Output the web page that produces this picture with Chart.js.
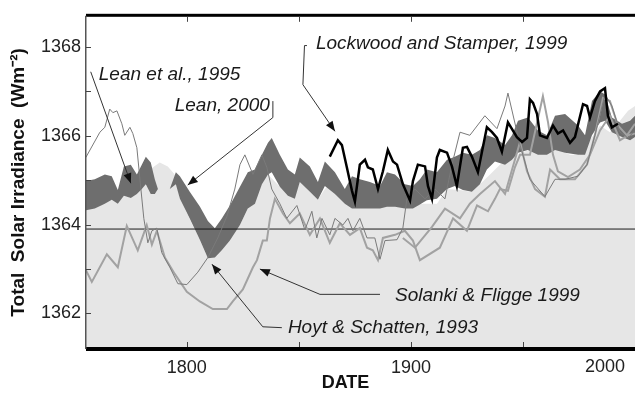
<!DOCTYPE html>
<html>
<head>
<meta charset="utf-8">
<script src="https://cdn.jsdelivr.net/npm/chart.js@4.4.1/dist/chart.umd.min.js"></script>
<style>
  html, body { margin: 0; padding: 0; background: #fff; }
  canvas { display: block; }
</style>
</head>
<body>
<canvas id="tsiChart" width="635" height="394"></canvas>
<script>
const FONT = "'Liberation Sans', Arial, Helvetica, sans-serif";

// axis ticks
const xTickYears = [1800, 1850, 1900, 1950];
const xLabelYears = [1800, 1900];
const yTickValues = [1362, 1363, 1364, 1365, 1366, 1367, 1368];

// light grey envelope (filled to the bottom)
const lightYears = [1754.9, 1763.4, 1769.2, 1775.0, 1779.0, 1783.5, 1787.9, 1791.5, 1794.6, 1796.9, 1805.8, 1809.4, 1815.6, 1823.7, 1827.2, 1830.4, 1833.5, 1836.2, 1841.5, 1845.1, 1848.2, 1850.4, 1854.9, 1858.5, 1861.6, 1866.1, 1870.5, 1877.2, 1886.2, 1895.1, 1904.0, 1911.6, 1916.1, 1921.9, 1926.3, 1930.8, 1935.3, 1939.7, 1944.2, 1948.7, 1953.1, 1957.6, 1961.2, 1964.3, 1966.5, 1971.0, 1975.4, 1979.9, 1984.4, 1988.8, 1993.3, 1996.9, 2000.0];
const lightTop = [1364.32, 1364.47, 1364.69, 1364.60, 1364.91, 1365.24, 1365.40, 1365.31, 1365.13, 1364.58, 1363.66, 1363.24, 1363.42, 1363.99, 1364.36, 1365.02, 1365.24, 1365.13, 1364.85, 1365.02, 1365.13, 1364.96, 1364.74, 1364.56, 1364.80, 1365.02, 1364.47, 1364.47, 1364.47, 1364.47, 1364.47, 1364.47, 1364.80, 1364.78, 1364.74, 1364.91, 1365.13, 1365.35, 1365.46, 1365.62, 1365.68, 1365.57, 1366.12, 1366.23, 1365.68, 1365.57, 1365.57, 1365.90, 1366.23, 1366.08, 1366.34, 1366.56, 1366.67];

// dark grey band (Lean)
const bandYears = [1754.9, 1758.9, 1763.4, 1766.5, 1769.2, 1771.9, 1775.0, 1777.7, 1779.9, 1781.7, 1783.9, 1785.7, 1787.1, 1792.4, 1795.1, 1796.9, 1801.3, 1805.8, 1809.4, 1812.5, 1815.6, 1819.2, 1823.7, 1827.2, 1830.4, 1833.5, 1836.2, 1837.9, 1841.5, 1845.1, 1848.2, 1850.4, 1854.9, 1858.5, 1861.6, 1866.1, 1870.5, 1873.7, 1877.2, 1881.7, 1886.2, 1889.3, 1892.9, 1897.3, 1900.9, 1904.0, 1907.1, 1911.6, 1916.1, 1919.6, 1923.2, 1927.2, 1930.8, 1933.9, 1937.5, 1942.0, 1945.1, 1947.8, 1952.2, 1956.7, 1960.7, 1964.3, 1968.8, 1974.6, 1977.7, 1980.8, 1984.4, 1986.6, 1989.7, 1994.2, 1997.8, 2000.0];
const bandUpper = [1364.98, 1365.02, 1365.13, 1365.09, 1364.78, 1365.31, 1365.35, 1365.13, 1365.35, 1365.53, 1365.40, 1365.02, 1364.80, 1364.80, 1365.18, 1365.09, 1364.74, 1364.41, 1364.08, 1363.92, 1364.14, 1364.43, 1364.85, 1365.18, 1365.24, 1365.57, 1365.84, 1365.95, 1365.57, 1365.24, 1365.13, 1365.51, 1365.31, 1364.96, 1365.42, 1365.18, 1364.80, 1365.09, 1365.02, 1364.96, 1364.87, 1365.18, 1365.13, 1364.91, 1364.87, 1365.02, 1365.24, 1365.18, 1365.46, 1365.53, 1365.62, 1365.57, 1365.68, 1366.01, 1365.95, 1365.79, 1366.01, 1366.34, 1366.41, 1366.12, 1366.01, 1366.45, 1366.49, 1366.23, 1366.01, 1366.78, 1367.00, 1366.93, 1366.41, 1366.27, 1366.34, 1366.45];
const bandLower = [1364.32, 1364.36, 1364.47, 1364.56, 1364.47, 1364.65, 1364.60, 1364.69, 1364.80, 1364.91, 1364.69, 1364.69, 1364.80, 1364.80, 1364.91, 1364.58, 1364.14, 1363.66, 1363.24, 1363.26, 1363.42, 1363.64, 1363.99, 1364.36, 1364.47, 1364.91, 1365.13, 1365.18, 1364.85, 1364.65, 1364.58, 1364.96, 1364.74, 1364.56, 1364.87, 1364.69, 1364.47, 1364.36, 1364.36, 1364.36, 1364.36, 1364.40, 1364.40, 1364.36, 1364.36, 1364.45, 1364.55, 1364.58, 1364.80, 1364.87, 1364.78, 1364.74, 1364.91, 1365.24, 1365.42, 1365.35, 1365.46, 1365.62, 1365.68, 1365.57, 1365.57, 1365.68, 1365.62, 1365.57, 1365.57, 1366.01, 1366.30, 1366.34, 1366.08, 1365.97, 1365.90, 1365.97];

// Hoyt & Schatten, 1993 (thin line)
const hsYears = [1754.9, 1761.2, 1763.4, 1765.6, 1767.0, 1768.8, 1771.0, 1772.3, 1774.6, 1775.9, 1777.7, 1779.5, 1780.8, 1782.6, 1784.4, 1786.6, 1788.8, 1792.4, 1796.0, 1800.0, 1804.9, 1809.4, 1813.8, 1817.9, 1821.4, 1823.7, 1825.9, 1829.5, 1833.5, 1835.7, 1837.9, 1841.5, 1844.6, 1849.1, 1852.7, 1855.8, 1858.0, 1860.3, 1863.8, 1866.1, 1869.6, 1871.9, 1874.1, 1877.2, 1880.4, 1883.9, 1886.2, 1888.4, 1893.8, 1896.4, 1898.2, 1901.8, 1906.3, 1910.7, 1915.2, 1918.3, 1921.9, 1926.3, 1933.0, 1938.4, 1942.0, 1943.3, 1948.7, 1953.1, 1959.8, 1964.3, 1968.8, 1974.6, 1978.6, 1982.1, 1986.6, 1989.7, 1993.3, 1996.9, 2000.0];
const hsValues = [1365.51, 1366.08, 1366.19, 1366.60, 1366.52, 1366.56, 1366.27, 1366.01, 1366.19, 1366.05, 1365.73, 1364.80, 1364.14, 1363.59, 1363.86, 1363.92, 1363.37, 1363.04, 1362.67, 1362.65, 1362.93, 1363.26, 1363.70, 1364.19, 1364.80, 1365.35, 1365.57, 1365.13, 1365.57, 1365.29, 1364.80, 1364.47, 1364.14, 1364.43, 1363.88, 1364.30, 1363.70, 1364.14, 1363.77, 1364.14, 1363.99, 1364.14, 1363.86, 1364.14, 1363.70, 1363.70, 1363.22, 1363.64, 1363.66, 1363.92, 1364.58, 1364.80, 1364.58, 1364.80, 1364.58, 1365.35, 1366.08, 1366.01, 1366.45, 1366.16, 1366.67, 1366.96, 1365.79, 1365.02, 1364.63, 1365.02, 1365.02, 1365.09, 1365.35, 1366.01, 1366.93, 1366.67, 1366.08, 1365.95, 1366.12];

// Solanki & Fligge 1999 (two grey lines)
const sfYears = [1754.9, 1757.6, 1764.3, 1769.2, 1773.2, 1778.1, 1782.1, 1784.4, 1786.6, 1790.2, 1794.6, 1800.0, 1805.8, 1811.6, 1817.9, 1820.5, 1825.0, 1829.5, 1831.3, 1833.9, 1835.7, 1837.1, 1839.3, 1842.9, 1846.0, 1850.4, 1854.9, 1859.4, 1863.8, 1868.3, 1872.8, 1877.2, 1880.4, 1883.0, 1885.3, 1887.5, 1892.9, 1897.3, 1900.9, 1904.0, 1912.9, 1918.8, 1925.0, 1929.5, 1934.4, 1937.5, 1939.7, 1943.3, 1946.4, 1948.7, 1953.1, 1958.9, 1961.2, 1963.4, 1965.6, 1970.1, 1975.4, 1979.9, 1984.4, 1988.8, 1993.3, 1996.9, 2000.0];
const sfValues = [1362.98, 1362.71, 1363.33, 1363.04, 1363.97, 1363.42, 1363.99, 1363.55, 1363.86, 1363.26, 1362.89, 1362.49, 1362.27, 1362.10, 1362.10, 1362.27, 1362.54, 1363.04, 1363.20, 1363.64, 1363.64, 1364.14, 1364.58, 1364.25, 1364.03, 1364.25, 1363.77, 1364.14, 1363.59, 1364.03, 1363.77, 1363.92, 1363.48, 1363.42, 1363.20, 1363.70, 1363.77, 1363.86, 1363.64, 1363.20, 1363.48, 1364.14, 1363.86, 1364.43, 1364.30, 1364.58, 1364.80, 1364.76, 1365.29, 1365.57, 1365.57, 1366.89, 1366.30, 1365.57, 1365.20, 1365.07, 1365.24, 1365.57, 1366.12, 1366.45, 1365.90, 1366.01, 1366.05];
const sf2Years = [1896.4, 1901.8, 1909.4, 1915.2, 1921.9, 1926.3, 1930.8, 1937.5, 1942.0, 1948.7, 1951.8, 1955.4, 1959.8, 1962.1, 1966.5, 1973.2, 1978.6, 1982.1, 1985.7, 1988.8, 1992.4, 1996.4, 2000.0];
const sf2Values = [1363.70, 1363.48, 1363.95, 1364.36, 1364.14, 1364.47, 1364.69, 1364.98, 1364.69, 1365.86, 1365.20, 1364.80, 1364.63, 1365.24, 1365.02, 1365.02, 1365.35, 1366.01, 1366.85, 1366.78, 1366.23, 1366.01, 1366.27];

// Lockwood and Stamper, 1999 (black)
const lsYears = [1863.8, 1867.4, 1869.2, 1871.4, 1873.7, 1875.0, 1877.2, 1879.5, 1880.8, 1883.0, 1885.3, 1887.5, 1889.7, 1892.0, 1893.8, 1896.4, 1899.6, 1900.9, 1903.1, 1906.3, 1907.6, 1909.4, 1911.6, 1912.9, 1916.1, 1918.3, 1920.5, 1923.2, 1925.0, 1927.2, 1929.9, 1933.9, 1936.2, 1938.4, 1940.6, 1943.3, 1947.3, 1949.6, 1951.8, 1953.1, 1954.5, 1956.3, 1957.6, 1960.7, 1963.4, 1965.6, 1967.9, 1971.0, 1973.2, 1976.8, 1978.6, 1979.9, 1982.1, 1984.4, 1986.6, 1987.9, 1989.7, 1992.4];
const lsValues = [1365.53, 1365.90, 1365.79, 1365.29, 1364.76, 1364.52, 1365.35, 1365.46, 1365.29, 1365.24, 1364.80, 1365.20, 1365.68, 1365.42, 1365.35, 1364.91, 1364.54, 1364.98, 1365.35, 1365.31, 1364.87, 1364.58, 1365.51, 1365.68, 1365.62, 1365.31, 1364.87, 1365.73, 1365.75, 1365.53, 1365.18, 1366.19, 1366.08, 1365.95, 1365.64, 1366.30, 1365.97, 1365.86, 1365.95, 1366.82, 1366.74, 1366.49, 1366.01, 1365.95, 1366.23, 1366.05, 1366.12, 1365.84, 1365.97, 1366.71, 1366.67, 1366.41, 1366.78, 1367.00, 1367.07, 1366.45, 1366.19, 1366.27];

// horizontal reference line
const refYears = [1755, 2000];
const refValues = [1363.9, 1363.9];

// labels with their pointer lines (data units), the last point is the arrow tip
const notes = [
  { text: 'Lean et al., 1995', at: [1760.7, 1367.37], path: [[1757.1, 1367.44], [1775.0, 1364.93]] },
  { text: 'Lean, 2000', at: [1794.6, 1366.67], path: [[1838.4, 1366.78], [1838.4, 1366.41], [1800.4, 1364.89]] },
  { text: 'Lockwood and Stamper, 1999', at: [1857.6, 1368.08], path: [[1853.6, 1368.03], [1852.5, 1368.03], [1851.8, 1367.15], [1866.1, 1366.10]] },
  { text: 'Solanki & Fligge 1999', at: [1892.9, 1362.41], path: [[1886.2, 1362.43], [1859.4, 1362.43], [1832.6, 1363.0]] },
  { text: 'Hoyt & Schatten, 1993', at: [1845.1, 1361.68], path: [[1842.4, 1361.68], [1833.9, 1361.70], [1811.2, 1363.11]] }
];

function pts(xs, ys) {
  return xs.map((v, i) => ({ x: v, y: ys[i] }));
}

const lineBase = { pointRadius: 0, tension: 0, fill: false };

const frame = {
  id: 'frame',
  afterDatasetsDraw(chart) {
    const { ctx, chartArea: a, scales: { x, y } } = chart;
    ctx.save();

    // box: heavy top and bottom, thin left
    ctx.fillStyle = '#000';
    ctx.fillRect(a.left, a.top - 2, a.right - a.left, 3);
    ctx.fillRect(a.left, a.bottom - 2, a.right - a.left, 4);
    ctx.fillStyle = '#555';
    ctx.fillRect(a.left - 1, a.top, 1.5, a.bottom - a.top);

    // inward ticks
    ctx.strokeStyle = '#444';
    ctx.lineWidth = 1;
    ctx.beginPath();
    x.ticks.forEach(t => {
      const px = Math.round(x.getPixelForValue(t.value)) + 0.5;
      ctx.moveTo(px, a.bottom - 2);
      ctx.lineTo(px, a.bottom - 7);
      ctx.moveTo(px, a.top + 1);
      ctx.lineTo(px, a.top + 6);
    });
    y.ticks.forEach(t => {
      const py = Math.round(y.getPixelForValue(t.value)) + 0.5;
      ctx.moveTo(a.left, py);
      ctx.lineTo(a.left + 5, py);
    });
    ctx.stroke();

    // last year label sits inside the right edge
    ctx.font = '18px ' + FONT;
    ctx.fillStyle = '#222';
    ctx.textAlign = 'center';
    ctx.textBaseline = 'middle';
    ctx.fillText('2000', a.right - 30, a.bottom + 18);

    // annotations
    notes.forEach(n => {
      ctx.font = 'italic 19px ' + FONT;
      ctx.fillStyle = '#1a1a1a';
      ctx.textAlign = 'left';
      ctx.textBaseline = 'middle';
      ctx.fillText(n.text, x.getPixelForValue(n.at[0]), y.getPixelForValue(n.at[1]));

      const p = n.path.map(([u, v]) => [x.getPixelForValue(u), y.getPixelForValue(v)]);
      ctx.beginPath();
      p.forEach(([px, py], i) => i ? ctx.lineTo(px, py) : ctx.moveTo(px, py));
      ctx.strokeStyle = '#333';
      ctx.lineWidth = 1;
      ctx.stroke();

      const [x1, y1] = p[p.length - 2];
      const [x2, y2] = p[p.length - 1];
      const ang = Math.atan2(y2 - y1, x2 - x1);
      const len = 10, half = 4;
      ctx.beginPath();
      ctx.moveTo(x2, y2);
      ctx.lineTo(x2 - len * Math.cos(ang) + half * Math.sin(ang), y2 - len * Math.sin(ang) - half * Math.cos(ang));
      ctx.lineTo(x2 - len * Math.cos(ang) - half * Math.sin(ang), y2 - len * Math.sin(ang) + half * Math.cos(ang));
      ctx.closePath();
      ctx.fillStyle = '#111';
      ctx.fill();
    });

    ctx.restore();
  }
};

new Chart(document.getElementById('tsiChart'), {
  type: 'line',
  data: {
    datasets: [
      { ...lineBase, label: 'Lockwood and Stamper, 1999', data: pts(lsYears, lsValues), borderColor: '#000', borderWidth: 2.5, order: 1 },
      { ...lineBase, label: 'Hoyt & Schatten, 1993', data: pts(hsYears, hsValues), borderColor: '#7a7a7a', borderWidth: 1, order: 2 },
      { ...lineBase, label: 'Solanki & Fligge 1999', data: pts(sfYears, sfValues), borderColor: '#a2a2a2', borderWidth: 2, order: 3 },
      { ...lineBase, label: 'Solanki & Fligge 1999 (b)', data: pts(sf2Years, sf2Values), borderColor: '#a2a2a2', borderWidth: 2, order: 4 },
      { ...lineBase, label: 'reference', data: pts(refYears, refValues), borderColor: '#1a1a1a', borderWidth: 1, order: 5 },
      { ...lineBase, label: 'Lean band low', data: pts(bandYears, bandLower), borderColor: 'rgba(0,0,0,0)', borderWidth: 0, order: 6 },
      { ...lineBase, label: 'Lean band high', data: pts(bandYears, bandUpper), borderColor: 'rgba(0,0,0,0)', borderWidth: 0, fill: '-1', backgroundColor: '#6e6e6e', order: 7 },
      { ...lineBase, label: 'envelope', data: pts(lightYears, lightTop), borderColor: 'rgba(0,0,0,0)', borderWidth: 0, fill: 'start', backgroundColor: '#e6e6e6', order: 8 }
    ]
  },
  options: {
    responsive: false,
    animation: false,
    devicePixelRatio: 1,
    layout: { padding: { top: 8, right: 0, bottom: 0, left: 0 } },
    plugins: {
      legend: { display: false },
      tooltip: { enabled: false }
    },
    scales: {
      x: {
        type: 'linear',
        min: 1755,
        max: 2000,
        afterBuildTicks: s => { s.ticks = xTickYears.map(v => ({ value: v })); },
        afterFit: s => { s.height = 45; },
        grid: { display: false, drawTicks: false },
        border: { display: false },
        ticks: {
          autoSkip: false,
          maxRotation: 0,
          padding: 8,
          color: '#222',
          font: { family: FONT, size: 18 },
          callback: v => xLabelYears.includes(v) ? String(v) : ''
        },
        title: {
          display: true,
          // trailing spaces nudge the centred title left, as in the original
          text: 'DATE      ',
          color: '#111',
          font: { family: FONT, size: 18, weight: 'bold' },
          padding: { top: 0, bottom: 0 }
        }
      },
      y: {
        min: 1361.2,
        max: 1368.7,
        afterBuildTicks: s => { s.ticks = yTickValues.map(v => ({ value: v })); },
        afterFit: s => { s.width = 86; },
        grid: { display: false, drawTicks: false },
        border: { display: false },
        ticks: {
          padding: 5,
          color: '#222',
          font: { family: FONT, size: 18 },
          callback: v => v % 2 === 0 ? String(v) : ''
        },
        title: {
          display: true,
          text: 'Total  Solar Irradiance  (Wm\u207B\u00B2)',
          color: '#111',
          font: { family: FONT, size: 19, weight: 'bold' },
          padding: { top: 7, bottom: 0 }
        }
      }
    }
  },
  plugins: [frame]
});
</script>
</body>
</html>
